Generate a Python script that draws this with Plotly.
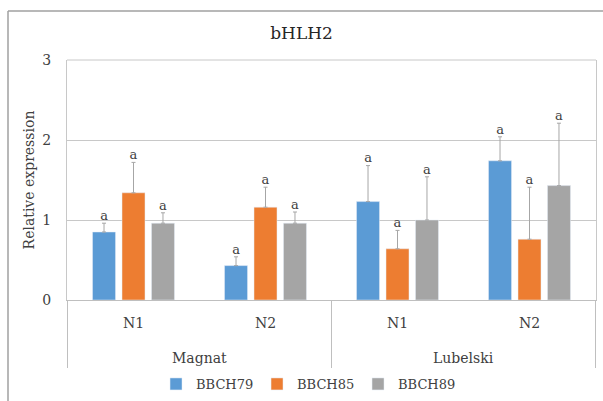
import plotly.graph_objects as go

cultivars = ["Magnat", "Magnat", "Lubelski", "Lubelski"]
doses = ["N1", "N2", "N1", "N2"]
series = ["BBCH79", "BBCH85", "BBCH89"]
colors = ["#5B9BD5", "#ED7D31", "#A5A5A5"]
bbch79 = [0.85, 0.43, 1.23, 1.74]
bbch85 = [1.34, 1.16, 0.64, 0.76]
bbch89 = [0.96, 0.96, 1.00, 1.43]
err79 = [0.11, 0.11, 0.45, 0.30]
err85 = [0.38, 0.25, 0.23, 0.65]
err89 = [0.13, 0.14, 0.54, 0.78]
letters79 = ["a", "a", "a", "a"]
letters85 = ["a", "a", "a", "a"]
letters89 = ["a", "a", "a", "a"]

FONT = "DejaVu Serif"
vals = [bbch79, bbch85, bbch89]
errs = [err79, err85, err89]
lets = [letters79, letters85, letters89]
cats = [c + " " + d for c, d in zip(cultivars, doses)]

fig = go.Figure()
for i, name in enumerate(series):
    fig.add_trace(go.Bar(
        x=cats, y=vals[i], name=name, marker_color=colors[i],
        offsetgroup=str(i),
        error_y=dict(type="data", array=errs[i], arrayminus=[0] * len(errs[i]),
                     symmetric=False, color="#A6A6A6", thickness=1, width=2),
    ))
for i, name in enumerate(series):
    fig.add_trace(go.Scatter(
        x=cats, y=[v + e for v, e in zip(vals[i], errs[i])], mode="text",
        text=lets[i], textposition="top center", offsetgroup=str(i),
        textfont=dict(family=FONT, size=13, color="#404040"),
        showlegend=False, hoverinfo="skip", cliponaxis=False,
    ))

fig.update_layout(
    width=603, height=401,
    margin=dict(l=67, r=7, t=60, b=101),
    paper_bgcolor="white", plot_bgcolor="white",
    barmode="group", scattermode="group", bargap=0.33, bargroupgap=0.22,
    font=dict(family=FONT, size=14, color="#404040"),
    title=dict(text="bHLH2", x=0.5, xref="container", xanchor="center",
               y=1 - 33 / 401, yanchor="middle", font=dict(family=FONT, size=17, color="#262626")),
    showlegend=True,
    legend=dict(orientation="h", xref="container", yref="container", x=0.51, xanchor="center",
                y=1 - 384 / 401, yanchor="middle", font=dict(family=FONT, size=13, color="#404040"),
                itemwidth=30, entrywidth=56, entrywidthmode="pixels", traceorder="normal"),
    xaxis=dict(type="category", categoryorder="array", categoryarray=cats,
               tickvals=cats, ticktext=doses, showline=True, linecolor="#BFBFBF", linewidth=1,
               ticks="", ticklabelstandoff=10, tickfont=dict(family=FONT, size=14, color="#404040")),
    yaxis=dict(range=[0, 3], dtick=1, showgrid=True, gridcolor="#C8C8C8", gridwidth=1,
               zeroline=False, showline=True, linecolor="#C8C8C8", mirror=True,
               tickfont=dict(family=FONT, size=14, color="#404040"), ticklabelstandoff=12,
               title=dict(text="Relative expression", font=dict(family=FONT, size=14, color="#404040"), standoff=4)),
)
# group labels and dividers of the two-level category axis
groups = ["Magnat", "Lubelski"]
for g_i, g in enumerate(groups):
    idx = [k for k, c in enumerate(cultivars) if c == g]
    fig.add_annotation(x=sum(idx) / len(idx), xref="x", y=(300 - 358) / 240, yref="paper",
                       yanchor="middle", text=g, showarrow=False,
                       font=dict(family=FONT, size=14, color="#404040"))
for b in [-0.5, 1.5, 3.5]:
    fig.add_shape(type="line", xref="x", yref="paper", x0=b, x1=b, y0=(300 - 368) / 240, y1=0,
                  line=dict(color="#BFBFBF", width=1))
fig.add_shape(type="line", xref="paper", yref="paper", x0=0, x1=1, y0=1, y1=1,
              line=dict(color="#C8C8C8", width=1))
# outer chart frame
fig.add_shape(type="line", xref="paper", yref="paper", x0=(8 - 67) / 529, x1=(8 - 67) / 529,
              y0=(300 - 401) / 240, y1=(300 - 11) / 240, line=dict(color="#A0A0A0", width=1.5))
fig.add_shape(type="line", xref="paper", yref="paper", x0=(8 - 67) / 529, x1=(603 - 67) / 529,
              y0=(300 - 11) / 240, y1=(300 - 11) / 240, line=dict(color="#A0A0A0", width=1.5))
fig.write_html("out.html")
